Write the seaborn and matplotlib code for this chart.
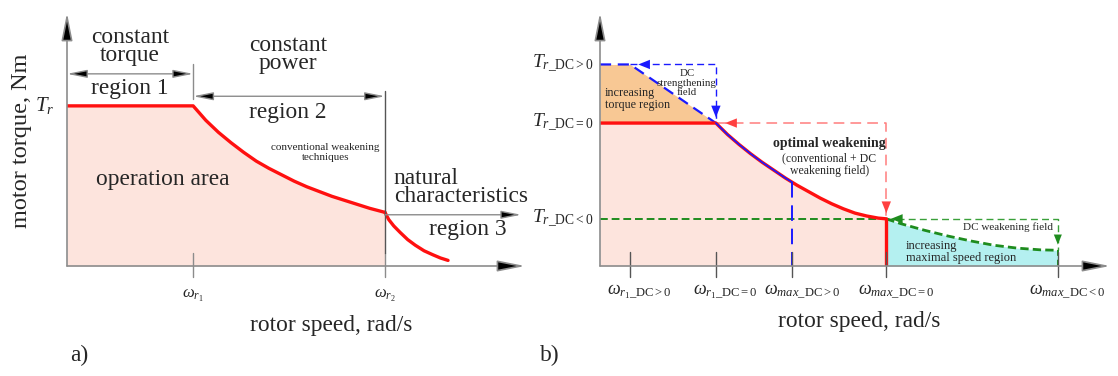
import matplotlib.pyplot as plt
import pandas as pd
import seaborn as sns

# Panel a: speed in units of w_r1, torque in units of T_r
a_speed = [0.0, 1.0, 1.1, 1.2, 1.3, 1.4, 1.5, 1.6, 1.7, 1.8, 1.9, 2.0, 2.1, 2.2, 2.3, 2.4, 2.52]
a_torque = [1.0, 1.0, 0.91, 0.835, 0.77, 0.71, 0.655, 0.61, 0.57, 0.53, 0.495, 0.465, 0.435,
            0.41, 0.385, 0.36, 0.335]
a3_speed = [2.52, 2.55, 2.59, 2.64, 2.70, 2.76, 2.83, 2.90, 2.96, 3.02]
a3_torque = [0.335, 0.29, 0.25, 0.21, 0.165, 0.13, 0.095, 0.07, 0.05, 0.035]
a_ticks = [1.0, 2.52]
a_tick_labels = [r'$\omega_{r_1}$', r'$\omega_{r_2}$']

# Panel b
b_speed = [0.0, 1.0, 1.1, 1.2, 1.3, 1.4, 1.5, 1.6, 1.7, 1.8, 1.9, 2.0, 2.1, 2.2, 2.3, 2.4, 2.47]
b_torque = [1.0, 1.0, 0.92, 0.85, 0.785, 0.725, 0.67, 0.615, 0.565, 0.52, 0.475, 0.435, 0.40,
            0.37, 0.35, 0.335, 0.33]
b_boost_speed = [0.0, 0.26, 1.0]
b_boost_torque = [1.41, 1.41, 1.0]
b_blue_speed = [1.0, 1.1, 1.2, 1.3, 1.4, 1.5, 1.6, 1.66]
b_blue_torque = [1.0, 0.92, 0.85, 0.785, 0.725, 0.67, 0.615, 0.585]
b_green_speed = [2.47, 2.6, 2.8, 3.0, 3.2, 3.4, 3.6, 3.8, 3.95]
b_green_torque = [0.33, 0.295, 0.25, 0.21, 0.175, 0.145, 0.125, 0.113, 0.11]
b_xticks = [0.26, 1.0, 1.66, 2.47, 3.95]
b_xtick_labels = [r'$\omega_{r_1\_\mathrm{DC}>0}$', r'$\omega_{r_1\_\mathrm{DC}=0}$',
                  r'$\omega_{max\_\mathrm{DC}>0}$', r'$\omega_{max\_\mathrm{DC}=0}$',
                  r'$\omega_{max\_\mathrm{DC}<0}$']
b_yticks = [1.41, 1.0, 0.33]
b_ytick_labels = [r'$T_{r\_\mathrm{DC}>0}$', r'$T_{r\_\mathrm{DC}=0}$', r'$T_{r\_\mathrm{DC}<0}$']

sns.set_theme(style="white")
plt.rcParams['font.family'] = ['Liberation Serif', 'DejaVu Serif']
plt.rcParams['mathtext.fontset'] = 'custom'
plt.rcParams['mathtext.rm'] = 'Liberation Serif'
plt.rcParams['mathtext.it'] = 'Liberation Serif:italic'
plt.rcParams['mathtext.bf'] = 'Liberation Serif:bold'

RED = '#ff1010'
PINK = '#fde4dd'
GREY = '#8c8c8c'
BIG = 16.8
W, H = 1118, 376
fig = plt.figure(figsize=(W / 100, H / 100), dpi=100)


def px_axes(x0, y0, x1, y1):
    return fig.add_axes([x0 / W, 1 - y0 / H, (x1 - x0) / W, (y0 - y1) / H])


def axis_arrows(ax):
    xmax, ymax = ax.get_xlim()[1], ax.get_ylim()[1]
    style = '-|>,head_length=1.4,head_width=0.28'
    ax.annotate('', xy=(xmax, 0), xytext=(0, 0), annotation_clip=False,
                arrowprops=dict(arrowstyle=style, fc='black', ec=GREY, lw=1.2, shrinkA=0, shrinkB=0))
    ax.annotate('', xy=(0, ymax), xytext=(0, 0), annotation_clip=False,
                arrowprops=dict(arrowstyle=style, fc='black', ec=GREY, lw=1.2, shrinkA=0, shrinkB=0))


def head(ax, x, y, dx, dy, color, size=0.7):
    ax.annotate('', xy=(x, y), xytext=(x - dx, y - dy), annotation_clip=False,
                arrowprops=dict(arrowstyle=f'-|>,head_length={size},head_width={size * 0.4}',
                                fc=color, ec=color, lw=0.01, shrinkA=0, shrinkB=0))


# ---------------- panel a ----------------
ax = px_axes(67, 266, 525, 13)
ax.set_xlim(0, 3.63)
ax.set_ylim(0, 1.58)
ax.axis('off')

ax.fill_between(a_speed, a_torque, 0, color=PINK, lw=0)
df_a = pd.DataFrame({'speed': a_speed, 'torque': a_torque})
df_a3 = pd.DataFrame({'speed': a3_speed, 'torque': a3_torque})
sns.lineplot(data=df_a, x='speed', y='torque', sort=False, estimator=None, color=RED, lw=2.4, ax=ax)
sns.lineplot(data=df_a3, x='speed', y='torque', sort=False, estimator=None, color=RED, lw=2.4, ax=ax)
axis_arrows(ax)

for x, lab in zip(a_ticks, a_tick_labels):
    ax.plot([x, x], [-0.07, 0.08], color=GREY, lw=1, clip_on=False)
    ax.text(x, -0.19, lab, ha='center', va='center', fontsize=12)
ax.plot([a_ticks[1], a_ticks[1]], [0.08, 1.09], color='#555555', lw=1, clip_on=False)
ax.plot([a_ticks[0], a_ticks[0]], [1.04, 1.26], color=GREY, lw=1, clip_on=False)
ax.text(-0.1, 1.0, r'$T_r$', ha='right', va='center', fontsize=15)

dbl = dict(arrowstyle='<|-|>,head_length=1.0,head_width=0.2', fc='black', ec=GREY, lw=1, shrinkA=0, shrinkB=0)
ax.annotate('', xy=(0, 1.20), xytext=(a_ticks[0], 1.20), arrowprops=dbl, annotation_clip=False)
ax.annotate('', xy=(a_ticks[0], 1.06), xytext=(a_ticks[1], 1.06), arrowprops=dbl, annotation_clip=False)
ax.annotate('', xy=(3.6, 0.32), xytext=(a_ticks[1], 0.32), annotation_clip=False,
            arrowprops=dict(arrowstyle='-|>,head_length=1.0,head_width=0.2', fc='black', ec=GREY,
                            lw=1, shrinkA=0, shrinkB=0))

ax.text(0.5, 1.37, 'constant\ntorque', ha='center', va='center', fontsize=BIG, linespacing=0.82)
ax.text(0.5, 1.11, 'region 1', ha='center', va='center', fontsize=BIG)
ax.text(1.75, 1.32, 'constant\npower', ha='center', va='center', fontsize=BIG, linespacing=0.82)
ax.text(1.75, 0.96, 'region 2', ha='center', va='center', fontsize=BIG)
ax.text(2.05, 0.71, 'conventional weakening\ntechniques', ha='center', va='center', fontsize=8,
        linespacing=1.1)
ax.text(0.76, 0.54, 'operation area', ha='center', va='center', fontsize=BIG)
ax.text(2.59, 0.49, 'natural\ncharacteristics', ha='left', va='center', fontsize=BIG, linespacing=0.85)
ax.text(3.18, 0.23, 'region 3', ha='center', va='center', fontsize=BIG)
ax.text(-0.36, 0.78, 'motor torque, Nm', rotation=90, ha='center', va='center', fontsize=17.5)
ax.text(2.09, -0.37, 'rotor speed, rad/s', ha='center', va='center', fontsize=BIG)
fig.text(70 / W, 1 - 355 / H, 'a)', ha='left', va='center', fontsize=BIG)

# ---------------- panel b ----------------
bx = px_axes(600, 266, 1110, 13)
bx.set_xlim(0, 4.40)
bx.set_ylim(0, 1.77)
bx.axis('off')

bx.fill_between(b_speed, b_torque, 0, color=PINK, lw=0)
bx.fill_between(b_boost_speed, b_boost_torque, 1.0, color='#f8c894', lw=0)
bx.fill_between(b_green_speed, b_green_torque, 0, color='#b4f0f0', lw=0)

# DC weakening field: green lines
bx.plot([0, b_speed[-1]], [b_yticks[2]] * 2, color='#1e8c1e', lw=1.4, dashes=(4, 2))
bx.plot([b_speed[-1], b_xticks[4], b_xticks[4]], [b_yticks[2], b_yticks[2], b_green_torque[-1]],
        color='#3aa03a', lw=1.0, dashes=(5, 3))
bx.plot([b_xticks[4], b_xticks[4]], [b_green_torque[-1], 0], color='#1e8c1e', lw=1.4, dashes=(3, 2))
head(bx, b_xticks[4], 0.15, 0, -0.05, '#1e8c1e', 0.6)
df_g = pd.DataFrame({'speed': b_green_speed, 'torque': b_green_torque})
sns.lineplot(data=df_g, x='speed', y='torque', sort=False, estimator=None, color='#1e8c1e', lw=2,
             dashes=False, ax=bx, linestyle=(0, (3, 1.5)))
head(bx, 2.51, 0.33, -0.05, 0.0, '#1e8c1e', 0.7)

# optimal weakening: faded red dashed frame
bx.plot([b_xticks[1], b_xticks[3], b_xticks[3]], [1.0, 1.0, b_yticks[2]], color='#ff7d7d', lw=1.1,
        dashes=(7, 4))
head(bx, 1.08, 1.0, -0.05, 0, '#ff4040', 0.7)
head(bx, b_xticks[3], 0.37, 0, -0.05, '#ff4040', 0.7)

# DC strengthening: blue
BLUE = '#1a1aff'
bx.plot(b_boost_speed, b_boost_torque, color=BLUE, lw=1.6, dashes=(5, 3))
bx.plot([b_boost_speed[1], b_xticks[1], b_xticks[1]], [1.41, 1.41, 1.0], color=BLUE, lw=1.0,
        dashes=(5, 3))
head(bx, 0.33, 1.41, -0.05, 0, BLUE, 0.7)
head(bx, b_xticks[1], 1.04, 0, -0.05, BLUE, 0.7)

df_b = pd.DataFrame({'speed': b_speed, 'torque': b_torque})
sns.lineplot(data=df_b, x='speed', y='torque', sort=False, estimator=None, color=RED, lw=2.4, ax=bx)
bx.plot([b_speed[-1], b_speed[-1]], [b_torque[-1], 0], color=RED, lw=2.4)
df_bl = pd.DataFrame({'speed': b_blue_speed, 'torque': b_blue_torque})
sns.lineplot(data=df_bl, x='speed', y='torque', sort=False, estimator=None, color=BLUE, lw=1.2, ax=bx)
bx.plot([b_xticks[2], b_xticks[2]], [b_blue_torque[-1], 0], color=BLUE, lw=1.4, dashes=(8, 4))

axis_arrows(bx)
for x, lab in zip(b_xticks, b_xtick_labels):
    bx.plot([x, x], [-0.08, 0.1], color='#555555', lw=1, clip_on=False)
    bx.text(x + 0.08, -0.18, lab, ha='center', va='center', fontsize=13)
for y, lab in zip(b_yticks, b_ytick_labels):
    bx.text(-0.05, y, lab, ha='right', va='center', fontsize=14)

bx.text(0.75, 1.28, 'DC\nstrengthening\nfield', ha='center', va='center', fontsize=7.8, linespacing=1.05)
bx.text(0.04, 1.17, 'increasing\ntorque region', ha='left', va='center', fontsize=8.7, linespacing=1.0)
bx.text(1.98, 0.86, 'optimal weakening', ha='center', va='center', fontsize=10, fontweight='bold')
bx.text(1.98, 0.71, '(conventional + DC\nweakening field)', ha='center', va='center', fontsize=8.5,
        linespacing=1.05)
bx.text(3.52, 0.27, 'DC weakening field', ha='center', va='center', fontsize=8)
bx.text(2.64, 0.10, 'increasing\nmaximal speed region', ha='left', va='center', fontsize=9,
        linespacing=1.0)
bx.text(2.24, -0.39, 'rotor speed, rad/s', ha='center', va='center', fontsize=BIG)
fig.text(540 / W, 1 - 355 / H, 'b)', ha='left', va='center', fontsize=BIG)

fig.savefig('out.png', dpi=100)
